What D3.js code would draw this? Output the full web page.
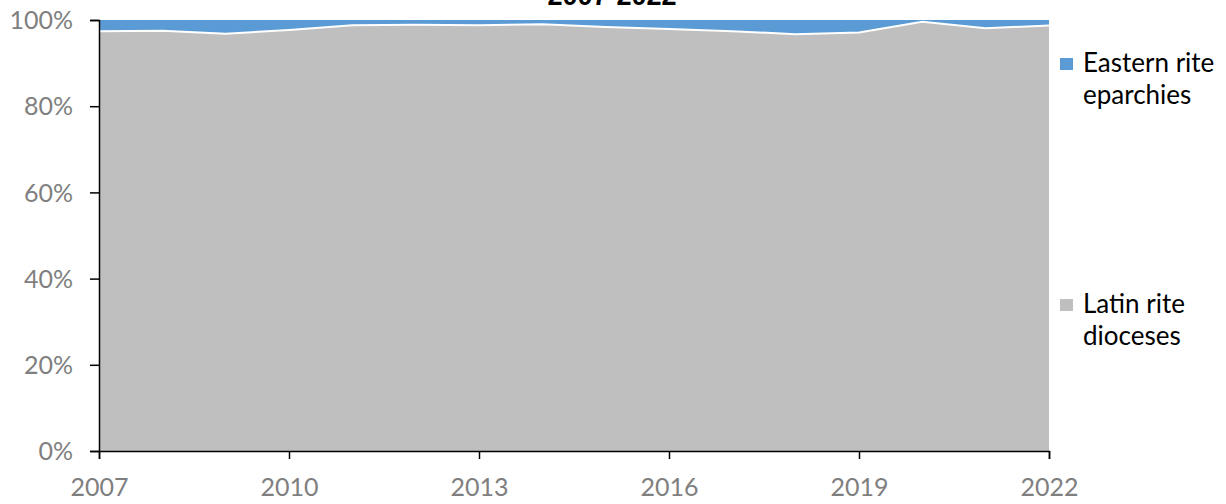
<!DOCTYPE html>
<html>
<head>
<meta charset="utf-8">
<script src="https://cdn.jsdelivr.net/npm/d3@7"></script>
<style>
  body { margin: 0; background: #fff; }
  svg { display: block; }
  .tick text { font-family: Lato, "Open Sans", sans-serif; }
</style>
</head>
<body>
<div id="container"></div>
<script>
// Data (share of jurisdictions, %)
var years = [2007, 2008, 2009, 2010, 2011, 2012, 2013, 2014, 2015, 2016, 2017, 2018, 2019, 2020, 2021, 2022];
var latin = [97.4, 97.5, 96.8, 97.7, 98.8, 98.9, 98.8, 99.0, 98.4, 97.9, 97.4, 96.7, 97.1, 99.6, 98.1, 98.7];
var eastern = latin.map(function(v) { return 100 - v; });
var seriesNames = ["Latin rite dioceses", "Eastern rite eparchies"];
var yTicks = [0, 20, 40, 60, 80, 100];
var xTicks = [2007, 2010, 2013, 2016, 2019, 2022];
var title = "2007-2022";

var W = 1226, H = 504,
    margin = {top: 20, right: 177, bottom: 53, left: 99},
    w = W - margin.left - margin.right,
    h = H - margin.top - margin.bottom,
    col = {latin: "#bfbfbf", eastern: "#5b9bd5", label: "#7f7f7f"};

var svg = d3.select("#container")
    .append("svg")
    .attr("width", W)
    .attr("height", H);

var g = svg.append("g")
    .attr("transform", "translate(" + margin.left + "," + margin.top + ")");

var x = d3.scaleLinear().domain([2007, 2022]).range([0, w]);
var y = d3.scaleLinear().domain([0, 100]).range([h, 0]);

var table = years.map(function(yr, i) {
    return {year: yr, latin: latin[i], eastern: eastern[i]};
});
var stack = d3.stack().keys(["latin", "eastern"]);
var layers = stack(table);

var area = d3.area()
    .x(function(d) { return x(d.data.year); })
    .y0(function(d) { return y(d[0]); })
    .y1(function(d) { return y(d[1]); });

g.selectAll(".layer")
    .data(layers)
    .enter()
    .append("path")
        .attr("class", "layer")
        .attr("d", area)
        .attr("fill", function(d) { return d.key === "latin" ? col.latin : col.eastern; });

// white border on top of the latin area
g.append("path")
    .datum(layers[0])
    .attr("d", d3.line()
        .x(function(d) { return x(d.data.year); })
        .y(function(d) { return y(d[1]); }))
    .attr("fill", "none")
    .attr("stroke", "#fff")
    .attr("stroke-width", 2);

// axes
var yAxis = g.append("g")
    .call(d3.axisLeft(y).tickValues(yTicks).tickSize(9).tickPadding(17)
        .tickFormat(function(d) { return d + "%"; }));
var xAxis = g.append("g")
    .attr("transform", "translate(0," + h + ")")
    .call(d3.axisBottom(x).tickValues(xTicks).tickSize(8).tickPadding(19)
        .tickFormat(d3.format("d")));

[yAxis, xAxis].forEach(function(a) {
    a.select(".domain").attr("stroke", "#000").attr("stroke-width", 1.5);
    a.selectAll(".tick line").attr("stroke", "#000").attr("stroke-width", 1.5);
    a.selectAll(".tick text")
        .attr("fill", col.label)
        .style("font-size", "25px");
});
yAxis.selectAll(".tick text").attr("dy", "0.35em");
xAxis.selectAll(".tick text").attr("dy", "0.71em");

// title (first line is above the visible area)
svg.append("text")
    .attr("x", 612)
    .attr("y", 5)
    .attr("text-anchor", "middle")
    .style("font-family", "'Liberation Sans', Arial, sans-serif")
    .style("font-weight", "bold")
    .style("font-size", "27px")
    .text(title);

// legend
var legend = [
    {name: ["Eastern rite", "eparchies"], color: col.eastern, y: 72},
    {name: ["Latin rite", "dioceses"], color: col.latin, y: 313}
];
var lg = svg.selectAll(".legend")
    .data(legend)
    .enter()
    .append("g")
        .attr("class", "legend");
lg.append("rect")
    .attr("x", 1060)
    .attr("y", function(d) { return d.y - 14; })
    .attr("width", 13)
    .attr("height", 12)
    .attr("fill", function(d) { return d.color; });
lg.each(function(d) {
    var t = d3.select(this).append("text")
        .attr("x", 1083)
        .attr("y", d.y)
        .style("font-family", "Lato, 'Open Sans', sans-serif")
        .style("font-size", "26px")
        .attr("fill", "#000");
    d.name.forEach(function(line, i) {
        t.append("tspan")
            .attr("x", 1083)
            .attr("y", d.y + i * 32)
            .text(line);
    });
});
</script>
</body>
</html>
